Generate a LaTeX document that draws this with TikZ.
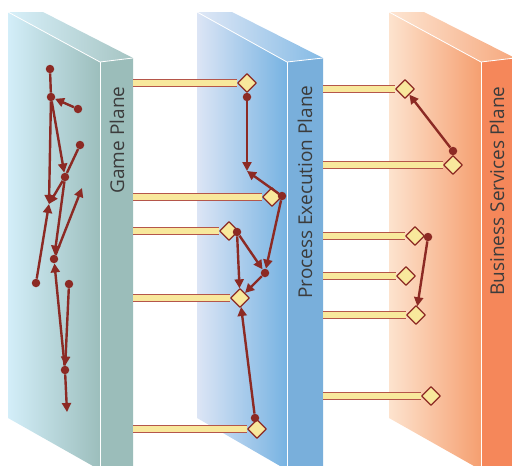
\documentclass[tikz,border=0pt]{standalone}
\usepackage{fontspec}
\newfontfamily\planefont{Open Sans}
\usetikzlibrary{arrows.meta,shapes.geometric}

\definecolor{gameL}{HTML}{D3EEF9}
\definecolor{gameR}{HTML}{9CBEBC}
\definecolor{gameS}{HTML}{9BBDBA}
\definecolor{procL}{HTML}{DCE5F5}
\definecolor{procR}{HTML}{77B3E2}
\definecolor{procS}{HTML}{79AFDB}
\definecolor{busL}{HTML}{FDE3CE}
\definecolor{busR}{HTML}{F59F70}
\definecolor{busS}{HTML}{F5875A}
\definecolor{flow}{HTML}{8C2A24}
\definecolor{barfill}{HTML}{F8E89C}
\definecolor{barline}{HTML}{B5564A}
\definecolor{label}{HTML}{3C3C3C}

\begin{document}
\begin{tikzpicture}[x=1pt,y=-1pt,line join=bevel,
    dot/.style={circle,fill=flow,inner sep=0pt,minimum size=8.5pt},
    flowline/.style={draw=flow,line width=2.4pt,-{Triangle[length=9pt,width=9pt]}},
    flowlink/.style={draw=flow,line width=2.4pt},
    link/.style={draw=barline,double=barfill,line width=1.2pt,double distance=5.5pt},
    port/.style={diamond,draw=flow,fill=barfill,line width=1.2pt,inner sep=0pt,minimum size=19pt},
    planelabel/.style={rotate=90,text=label,font=\planefont\fontsize{19}{22}\selectfont}]
    \useasboundingbox (0,0) rectangle (512,466);
    \clip (0,0) rectangle (512,466);

    % game plane
    \shade[left color=gameL,right color=gameR] (8,12) -- (100,62) -- (100,470) -- (8,418) -- cycle;
    \shade[left color=gameL!90!white,right color=gameR!90!white] (8,12) -- (43,12) -- (133,58) -- (100,62) -- cycle;
    \fill[gameS] (100,62) -- (133,58) -- (133,470) -- (100,470) -- cycle;
    \draw[white,line width=0.8pt] (8,12) -- (100,62) -- (133,58);
    \draw[white,line width=1pt] (100,62) -- (100,470);

    % process execution plane
    \shade[left color=procL,right color=procR] (197,12) -- (287,62) -- (287,470) -- (197,418) -- cycle;
    \shade[left color=procL!90!white,right color=procR!90!white] (197,12) -- (232,12) -- (323,58) -- (287,62) -- cycle;
    \fill[procS] (287,62) -- (323,58) -- (323,470) -- (287,470) -- cycle;
    \draw[white,line width=0.8pt] (197,12) -- (287,62) -- (323,58);
    \draw[white,line width=1pt] (287,62) -- (287,470);

    % business services plane
    \shade[left color=busL,right color=busR] (389,12) -- (481,62) -- (481,470) -- (389,418) -- cycle;
    \shade[left color=busL!90!white,right color=busR!90!white] (389,12) -- (424,12) -- (515,58) -- (481,62) -- cycle;
    \fill[busS] (481,62) -- (515,58) -- (515,470) -- (481,470) -- cycle;
    \draw[white,line width=0.8pt] (389,12) -- (481,62) -- (515,58);
    \draw[white,line width=1pt] (481,62) -- (481,470);

    \node[planelabel] (gamelabel) at (117,140) {Game Plane};
    \node[planelabel] (proclabel) at (305,192) {Process Execution Plane};
    \node[planelabel] (buslabel) at (497,191) {Business Services Plane};

    % ports
    \node[port] (pe1) at (247,83) {};
    \node[port] (pe2) at (272,197) {};
    \node[port] (pe3) at (229,231) {};
    \node[port] (pe4) at (240,298) {};
    \node[port] (pe5) at (257,429) {};
    \node[port] (bs1) at (405,89) {};
    \node[port] (bs2) at (453,165) {};
    \node[port] (bs3) at (415,236) {};
    \node[port] (bs4) at (406,276) {};
    \node[port] (bs5) at (416,315) {};
    \node[port] (bs6) at (431,396) {};

    \coordinate (g1) at (133,83);
    \coordinate (g2) at (133,197);
    \coordinate (g3) at (133,231);
    \coordinate (g4) at (133,298);
    \coordinate (g5) at (133,429);
    \coordinate (e1) at (323,89);
    \coordinate (e2) at (323,165);
    \coordinate (e3) at (323,236);
    \coordinate (e4) at (323,276);
    \coordinate (e5) at (323,315);
    \coordinate (e6) at (323,396);

    \draw[link] (g1) -- (pe1.west);
    \draw[link] (g2) -- (pe2.west);
    \draw[link] (g3) -- (pe3.west);
    \draw[link] (g4) -- (pe4.west);
    \draw[link] (g5) -- (pe5.west);
    \draw[link] (e1) -- (bs1.west);
    \draw[link] (e2) -- (bs2.west);
    \draw[link] (e3) -- (bs3.west);
    \draw[link] (e4) -- (bs4.west);
    \draw[link] (e5) -- (bs5.west);
    \draw[link] (e6) -- (bs6.west);

    % moves inside the game plane
    \node[dot] (ga) at (50,69) {};
    \node[dot] (gb) at (51,97) {};
    \node[dot] (gc) at (78,109) {};
    \node[dot] (gd) at (80,145) {};
    \node[dot] (ge) at (65,177) {};
    \node[dot] (gg) at (54,259) {};
    \node[dot] (gh) at (36,283) {};
    \node[dot] (gi) at (69,284) {};
    \node[dot] (gj) at (65,370) {};
    \coordinate (gf) at (49,204);
    \coordinate (gl) at (82,188);
    \coordinate (gk) at (67,412);

    \draw[flowlink] (ga) -- (gb);
    \draw[flowline] (gc) -- (gb);
    \draw[flowline] (gb) -- (gf);
    \draw[flowline] (gb) -- (ge);
    \draw[flowlink] (gd) -- (ge);
    \draw[flowline] (ge) -- (gf);
    \draw[flowline] (gh) -- (gf);
    \draw[flowline] (ge) -- (gg);
    \draw[flowline] (gg) -- (gl);
    \draw[flowline] (gi) -- (gj);
    \draw[flowline] (gj) -- (gg);
    \draw[flowline] (gj) -- (gk);

    % moves inside the process plane
    \node[dot] (pa) at (247,97) {};
    \node[dot] (pb) at (282,196) {};
    \node[dot] (pc) at (237,232) {};
    \node[dot] (pd) at (265,273) {};
    \node[dot] (pf) at (255,418) {};
    \coordinate (pm) at (247,171);

    \draw[flowline] (pa) -- (pm);
    \draw[flowline] (pb) -- (pm);
    \draw[flowline] (pb) -- (pd);
    \draw[flowline] (pc) -- (pd);
    \draw[flowline] (pc) -- (pe4);
    \draw[flowline] (pd) -- (pe4);
    \draw[flowline] (pf) -- (pe4);

    % moves inside the services plane
    \node[dot] (sa) at (453,151) {};
    \node[dot] (sb) at (428,237) {};
    \draw[flowline] (sa) -- (bs1);
    \draw[flowline] (sb) -- (bs5);
\end{tikzpicture}
\end{document}
